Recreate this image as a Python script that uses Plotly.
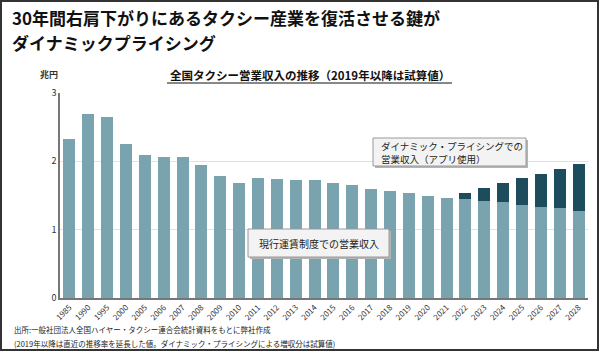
import plotly.graph_objects as go

# ---- data ----
years = ["1985", "1990", "1995", "2000", "2005", "2006", "2007", "2008", "2009", "2010",
         "2011", "2012", "2013", "2014", "2015", "2016", "2017", "2018", "2019", "2020",
         "2021", "2022", "2023", "2024", "2025", "2026", "2027", "2028"]
base_revenue = [2.33, 2.69, 2.65, 2.25, 2.09, 2.07, 2.07, 1.95, 1.78, 1.69,
                1.75, 1.74, 1.73, 1.72, 1.69, 1.66, 1.59, 1.57, 1.53, 1.50,
                1.47, 1.45, 1.42, 1.40, 1.36, 1.33, 1.31, 1.28]
dp_extra = [None] * 21 + [0.09, 0.19, 0.28, 0.39, 0.49, 0.58, 0.68]
y_ticks = [0, 1, 2, 3]

title_lines = ["30年間右肩下がりにあるタクシー産業を復活させる鍵が", "ダイナミックプライシング"]
subtitle = "全国タクシー営業収入の推移（2019年以降は試算値）"
unit = "兆円"
label_base = "現行運賃制度での営業収入"
label_dp_lines = ["ダイナミック・プライシングでの", "営業収入（アプリ使用）"]
notes = ["出所:一般社団法人全国ハイヤー・タクシー連合会統計資料をもとに弊社作成",
         "(2019年以降は直近の推移率を延長した値。ダイナミック・プライシングによる増収分は試算値)"]

# ---- layout geometry ----
W, H = 600, 353
ML, MR, MT, MB = 60, 12, 93, 55
PW, PH = W - ML - MR, H - MT - MB

def px(x):
    return (x - ML) / PW

def py(y):
    return (H - MB - y) / PH

FONT = "Noto Sans CJK JP, Noto Sans, sans-serif"
C_BASE = "#79a3ae"
C_DP = "#1d4d5c"

fig = go.Figure()
fig.add_trace(go.Bar(x=years, y=base_revenue, marker=dict(color=C_BASE, line=dict(width=0)),
                     name="base", showlegend=False))
fig.add_trace(go.Bar(x=years, y=dp_extra, marker=dict(color=C_DP, line=dict(width=0)),
                     name="dp", showlegend=False))

annotations = []
shapes = []

def text(x, y, s, size, xanchor="left", color="#111", align="left"):
    annotations.append(dict(x=px(x), y=py(y), xref="paper", yref="paper", xanchor=xanchor,
                            yanchor="middle", text=s, showarrow=False, align=align,
                            font=dict(family=FONT, size=size, color=color)))

text(10, 18, "<b>" + title_lines[0] + "</b>", 17)
text(10, 42, "<b>" + title_lines[1] + "</b>", 17)
text(310, 75, "<b>" + subtitle + "</b>", 11.5, xanchor="center")
text(49, 75, "<b>" + unit + "</b>", 9, xanchor="center", color="#333")
text(12, 329, notes[0], 7.5, color="#222")
text(12, 343, notes[1], 7.5, color="#222")

def box(x0, y0, x1, y1):
    shapes.append(dict(type="rect", xref="paper", yref="paper",
                       x0=px(x0 + 2), x1=px(x1 + 2), y0=py(y1 + 2), y1=py(y0 + 2),
                       line=dict(width=0), fillcolor="#b5b5b5", layer="above"))
    shapes.append(dict(type="rect", xref="paper", yref="paper",
                       x0=px(x0), x1=px(x1), y0=py(y1), y1=py(y0),
                       line=dict(color="#9a9a9a", width=1), fillcolor="#f3f3f3", layer="above"))

box(248, 229, 389, 257)
text(318.5, 243, label_base, 10, xanchor="center", color="#222", align="center")
box(373, 138, 526, 166)
text(379, 145.5, label_dp_lines[0], 9.5, color="#222")
text(379, 158.5, label_dp_lines[1], 9.5, color="#222")

# underline of subtitle
shapes.append(dict(type="line", xref="paper", yref="paper", x0=px(167), x1=px(452), y0=py(83), y1=py(83),
                   line=dict(color="#111", width=1)))
# outer frame
shapes.append(dict(type="rect", xref="paper", yref="paper", x0=px(1), x1=px(598), y0=py(350), y1=py(1),
                   line=dict(color="#333", width=2), fillcolor="rgba(0,0,0,0)"))

fig.update_layout(
    width=W, height=H,
    margin=dict(l=ML, r=MR, t=MT, b=MB),
    barmode="stack", bargap=0.36,
    plot_bgcolor="white", paper_bgcolor="white",
    font=dict(family=FONT, color="#333"),
    annotations=annotations, shapes=shapes,
    xaxis=dict(type="category", tickangle=-45, tickfont=dict(size=8, color="#333"),
               showline=True, linecolor="#777", linewidth=1.5, ticks="", showgrid=False),
    yaxis=dict(range=[0, 3], tickvals=y_ticks, tickfont=dict(size=9, color="#333"),
               showline=True, linecolor="#777", linewidth=1.5, gridcolor="#e2e2e2",
               zeroline=False, ticks="", ticklen=0),
)

fig.write_html("out.html")
